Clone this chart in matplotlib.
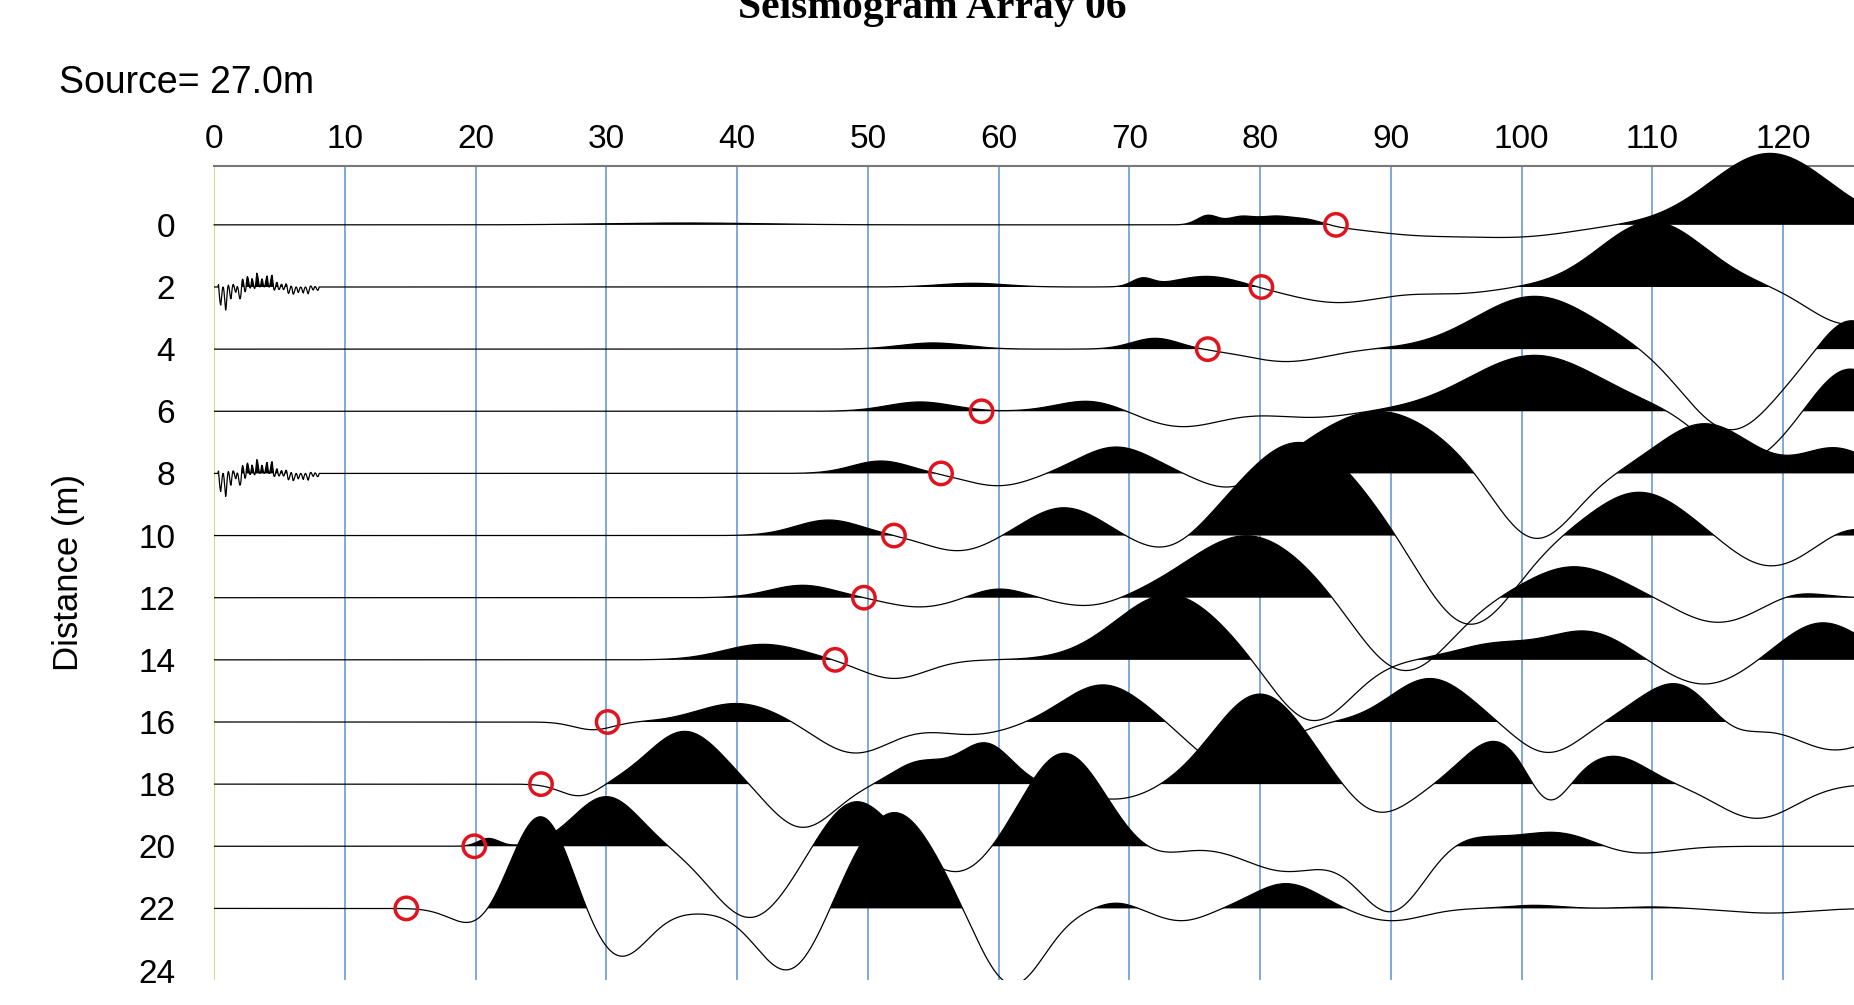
import numpy as np
import matplotlib
matplotlib.use("Agg")
import matplotlib.pyplot as plt

plt.rcParams['font.family'] = ['Liberation Sans', 'DejaVu Sans']

offsets = [0, 2, 4, 6, 8, 10, 12, 14, 16, 18, 20, 22]
# wavelet components per trace: (time, amplitude, width)
components = {
    0: [(36, 0.06, 6), (76, 0.3, 0.8), (78.5, 0.25, 1.0), (81, 0.25, 1.2), (83.5, 0.2, 1.3), (92, -0.3, 4), (100, -0.35, 4), (119, 2.3, 4.5)],
    2: [(58, 0.12, 2.5), (71, 0.25, 0.8), (76, 0.35, 2.5), (86, -0.5, 3.5), (95, -0.2, 3), (110, 2.1, 4), (125, -1.2, 3)],
    4: [(55, 0.2, 2.5), (72, 0.35, 1.8), (82, -0.4, 3), (101, 1.7, 4.5), (116, -2.6, 3.5), (125, 1.0, 2)],
    6: [(54, 0.3, 2.5), (67, 0.35, 2.5), (74, -0.5, 3), (84, -0.2, 3), (101, 1.8, 5), (117, -1.6, 3), (125, 1.4, 2.5)],
    8: [(51, 0.4, 2.2), (60, -0.4, 2.5), (69, 0.85, 2.8), (78, -0.6, 2.5), (89, 2.0, 5), (101, -2.2, 3), (114, 1.6, 3.5), (124, 0.8, 2.5)],
    10: [(47, 0.5, 2.5), (57, -0.5, 2.5), (65, 0.9, 2.8), (73, -0.6, 2.5), (83, 3.0, 4.5), (96, -2.9, 3.5), (109, 1.4, 3.5), (119, -1.0, 3), (125, 0.3, 2)],
    12: [(45, 0.4, 2.5), (54, -0.3, 2.5), (60, 0.3, 2), (67, -0.3, 2.5), (79, 2.0, 4.5), (91, -2.4, 3.5), (104, 1.0, 3.5), (115, -0.8, 3), (121, 0.2, 2)],
    14: [(42, 0.5, 3), (52, -0.6, 2.5), (73, 2.1, 4), (84, -2.0, 3), (98, 0.5, 3), (105, 0.9, 3), (114, -0.8, 3), (123, 1.2, 3)],
    16: [(29, -0.25, 1.5), (40, 0.6, 3), (49, -1.0, 2.8), (58, -0.4, 3), (68, 1.2, 3), (78, -1.5, 3), (93, 1.4, 3), (102, -1.0, 2.5), (112, 1.3, 3), (116, -0.6, 2), (124, -0.9, 3)],
    18: [(28, -0.4, 1.5), (36, 1.7, 2.8), (45, -1.4, 2.5), (54, 0.7, 2), (59, 1.3, 2), (69, -0.5, 3), (80, 2.9, 3.5), (89, -1.0, 2.5), (98, 1.4, 2.5), (102, -1.0, 1.5), (107, 0.9, 2.5), (118, -1.1, 3)],
    20: [(21, 0.25, 0.8), (30, 1.6, 2.5), (41, -2.3, 3), (49, 1.5, 2.5), (57, -0.9, 2.5), (65, 3.0, 3), (72, -0.3, 2), (82, -0.8, 3), (90, -2.1, 2.5), (96, 0.3, 2.5), (103, 0.5, 3), (108, -0.3, 3)],
    22: [(20, -0.6, 1.8), (25, 3.0, 2.2), (31, -1.6, 2.2), (37, -0.1, 2), (44, -2.1, 2.5), (52, 3.1, 3.2), (61, -2.5, 2.5), (69, 0.2, 1.5), (74, -0.4, 2), (82, 0.8, 2.5), (90, -0.4, 2.5), (101, 0.1, 2), (110, 0.05, 2), (119, -0.15, 3)],
}
noise_traces = [2, 8]
noise_vals = [0.6, -0.8, 0.5, -0.3, 0.7, -0.6, 0.4, -0.5, 0.3, -0.4, 0.5, -0.3, 0.25, -0.35, 0.3, -0.2, 0.2, -0.25, 0.15, -0.2]
picks_offset = [0, 2, 4, 6, 8, 10, 12, 14, 16, 18, 20, 22]
picks_time = [85.8, 80.1, 76.0, 58.7, 55.6, 52.0, 49.7, 47.5, 30.1, 25.0, 19.9, 14.7]
xticks = list(range(0, 130, 10))
yticks = list(range(0, 26, 2))

W, H = 1854, 1005
fig = plt.figure(figsize=(W/100, H/100), dpi=100)
ax = fig.add_axes([0.1155, 0.025, 0.885, 0.81])
t = np.linspace(0, 125.5, 3000)

for off in offsets:
    s = np.zeros_like(t)
    for (c, a, w) in components[off]:
        s += a * np.exp(-0.5 * ((t - c) / w) ** 2)
    if off in noise_traces:
        nt = np.linspace(0.5, 8, len(noise_vals))
        s += np.interp(t, nt, noise_vals) * np.sin(t * 9) * (t < 8) * (t > 0.3)
    y = off - s
    clip = off != 0
    ax.fill_between(t, off, y, where=s > 0, color="black", linewidth=0, interpolate=True, zorder=3, clip_on=clip)
    ax.plot(t, y, color="black", lw=0.9, zorder=4, clip_on=clip)

ax.scatter(picks_time, picks_offset, s=260, facecolors="none", edgecolors="#e0141e", linewidths=2.5, zorder=5)

for xv in xticks[1:]:
    ax.axvline(xv, color="#6b9bd1", lw=1.2, zorder=1)
ax.axvline(0, color="#d8d890", lw=1.5, zorder=1)

ax.set_xlim(0, 125.5)
ax.set_ylim(24.3, -1.9)
ax.xaxis.tick_top()
ax.set_xticks(xticks)
ax.set_yticks(yticks)
ax.tick_params(axis="both", length=0, labelsize=24, pad=8)
ax.tick_params(axis="y", pad=28)
for sp in ["left", "right", "bottom"]:
    ax.spines[sp].set_visible(False)
ax.spines["top"].set_color("#777777")
ax.spines["top"].set_linewidth(1.5)
ax.set_ylabel("Distance (m)", fontsize=25, labelpad=38)

fig.text(0.032, 0.917, "Source= 27.0m", fontsize=27, va="center", ha="left")
fig.text(0.503, 0.992, "Seismogram Array 06", fontsize=30, fontweight="bold",
         family="Liberation Serif", ha="center", va="center")
fig.savefig("out.png", dpi=100)
